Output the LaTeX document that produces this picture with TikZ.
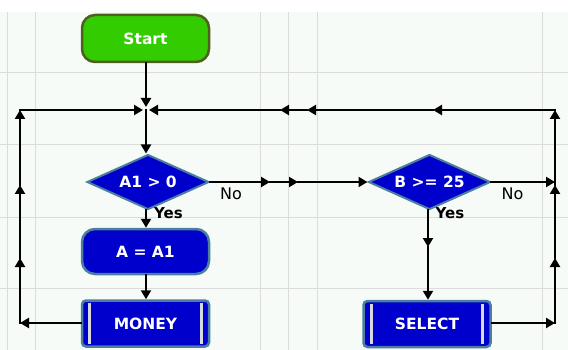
\documentclass[tikz,border=0pt]{standalone}
\usepackage{fontspec}
\setmainfont{DejaVu Sans}
\usetikzlibrary{shapes.geometric,arrows.meta}
\definecolor{bgc}{HTML}{F6FBF8}
\definecolor{gridc}{HTML}{DCDCDC}
\definecolor{startfill}{HTML}{33CC00}
\definecolor{startdraw}{HTML}{4F5F20}
\definecolor{boxfill}{HTML}{0000CC}
\definecolor{boxdraw}{HTML}{4A7FA0}
\definecolor{sublinec}{HTML}{D8D8E0}
\begin{document}
\begin{tikzpicture}[x=1pt,y=-1pt,
  boxtext/.style={text=white,font=\bfseries\fontsize{15.5}{18}\selectfont},
  term/.style={boxtext,draw=startdraw,line width=2.5pt,fill=startfill,rounded corners=13pt,minimum width=127pt,minimum height=47pt},
  proc/.style={boxtext,draw=boxdraw,line width=2.5pt,fill=boxfill,rounded corners=13pt,minimum width=127pt,minimum height=45pt},
  subr/.style={boxtext,draw=boxdraw,line width=2.5pt,fill=boxfill,rounded corners=4pt,minimum width=127pt,minimum height=46pt},
  dec/.style={boxtext,diamond,draw=boxdraw,line width=2pt,fill=boxfill,aspect=2.2,minimum width=122pt,minimum height=55pt,inner sep=0pt},
  subl/.style={draw=sublinec,line width=3pt},
  flow/.style={line width=2.5pt,line cap=rect,-{Triangle[length=9pt,width=10pt]}},
  lbl/.style={text=black,font=\fontsize{16}{18}\selectfont,inner sep=0pt},
  lblb/.style={text=black,font=\bfseries\fontsize{15}{18}\selectfont,inner sep=0pt},
  gridl/.style={draw=gridc,line width=1pt}]
\useasboundingbox (0,0) rectangle (568,350);
\fill[white] (0,0) rectangle (568,350);
\fill[bgc] (0,12) rectangle (568,350);
\foreach \gx in {7,35,260,288,317,542} \draw[gridl] (\gx,12) -- (\gx,350);
\foreach \gy in {73,145,217,288} \draw[gridl] (0,\gy) -- (568,\gy);

\node[term] (start) at (145.5,38.5) {Start};
\node[dec] (d1) at (148,182) {A1 > 0};
\node[proc] (a) at (145.5,251.5) {A = A1};
\node[subr] (money) at (145.5,323.5) {MONEY};
\node[dec] (d2) at (429.5,182) {B >= 25};
\node[subr] (select) at (427,324) {SELECT};

\draw[subl] ([xshift=9pt,yshift=-4pt]money.north west) -- ([xshift=9pt,yshift=4pt]money.south west);
\draw[subl] ([xshift=-9pt,yshift=-4pt]money.north east) -- ([xshift=-9pt,yshift=4pt]money.south east);
\draw[subl] ([xshift=9pt,yshift=-4pt]select.north west) -- ([xshift=9pt,yshift=4pt]select.south west);
\draw[subl] ([xshift=-9pt,yshift=-4pt]select.north east) -- ([xshift=-9pt,yshift=4pt]select.south east);

\coordinate (j1) at (146,110);
\coordinate (tl) at (20,110);
\coordinate (l1) at (20,258);
\coordinate (l2) at (20,185);
\coordinate (bl) at (20,323);
\coordinate (tr) at (555,110);
\coordinate (r1) at (555,258);
\coordinate (r2) at (555,185);
\coordinate (rm) at (555,182);
\coordinate (br) at (555,323);
\coordinate (t1) at (433,110);
\coordinate (t2) at (307,110);
\coordinate (t3) at (280,110);
\coordinate (m1) at (270,182);
\coordinate (m2) at (298,182);
\coordinate (b1) at (428,247);

% main column
\draw[flow,shorten >=3pt] (start.south -| j1) -- (j1);
\draw[flow] (j1) -- (j1 |- d1.north);
\draw[flow] (d1.south -| j1) -- (j1 |- a.north);
\draw[flow] (a.south -| j1) -- (j1 |- money.north);
% left loop
\draw[flow] (money.west |- bl) -- (bl);
\draw[flow] (bl) -- (l1);
\draw[flow] (l1) -- (l2);
\draw[flow] (l2) -- (tl);
\draw[flow,shorten >=3pt] (tl) -- (j1);
% no branch of d1
\draw[flow] (d1.east) -- (m1);
\draw[flow] (m1) -- (m2);
\draw[flow] (m2) -- (d2.west);
% d2
\draw[flow] (d2.east) -- (rm);
\draw[flow] (d2.south -| b1) -- (b1);
\draw[flow] (b1) -- (b1 |- select.north);
% right loop
\draw[flow] (select.east |- br) -- (br);
\draw[flow] (br) -- (r1);
\draw[flow] (r1) -- (r2);
\draw[flow] (r2) -- (tr);
\draw[flow] (tr) -- (t1);
\draw[flow] (t1) -- (t2);
\draw[flow] (t2) -- (t3);
\draw[flow,shorten >=3pt] (t3) -- (j1);

\node[lbl] (no1) at (231,194) {No};
\node[lblb] (yes1) at (168.5,213) {Yes};
\node[lbl] (no2) at (512.5,194) {No};
\node[lblb] (yes2) at (450,213) {Yes};
\end{tikzpicture}
\end{document}
